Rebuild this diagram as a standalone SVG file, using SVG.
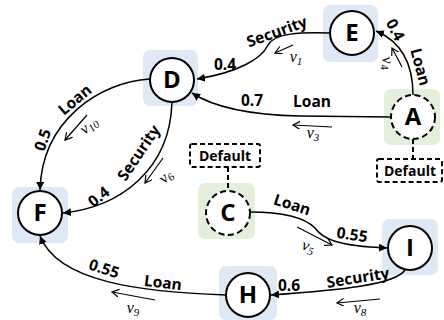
<svg xmlns="http://www.w3.org/2000/svg" width="444" height="320" viewBox="0 0 444 320">
<style>
.bgb{fill:#dfe9f6}
.bgg{fill:#e3efda}
.nd{fill:#fff;stroke:#000;stroke-width:2}
.dash{stroke-dasharray:6 3.5}
.nt{font-family:"Open Sans","Liberation Sans",sans-serif;font-weight:bold;font-size:24px;text-anchor:middle}
.lb{font-family:"Open Sans","Liberation Sans",sans-serif;font-weight:bold;font-size:15.5px;text-anchor:middle}
.nu{font-family:"Liberation Serif",serif;font-style:italic;font-size:16px;text-anchor:middle}
.sub{font-size:11px}
.e{fill:none;stroke:#000;stroke-width:1.5}
.sa{fill:none;stroke:#000;stroke-width:1.2}
.db{fill:#fff;stroke:#000;stroke-width:2;stroke-dasharray:5 3}
</style>
<defs>
<marker id="ah" markerUnits="userSpaceOnUse" markerWidth="10" markerHeight="10" refX="8" refY="4" orient="auto">
<path d="M0,0 L8,4 L0,8 Z" fill="#000"/>
</marker>
<marker id="oa" markerUnits="userSpaceOnUse" markerWidth="10" markerHeight="10" refX="7" refY="4" orient="auto">
<path d="M0,0 L7,4 L0,8" fill="none" stroke="#000" stroke-width="1.2"/>
</marker>
</defs>

<g id="highlights">
<rect class="bgb" x="323" y="5" width="55" height="57" rx="7"/>
<rect class="bgb" x="143" y="50" width="55" height="56" rx="7"/>
<rect class="bgg" x="384" y="89" width="56" height="56" rx="7"/>
<rect class="bgb" x="12" y="187" width="56" height="56" rx="7"/>
<rect class="bgg" x="198" y="183" width="57" height="56" rx="7"/>
<rect class="bgb" x="382" y="219" width="56" height="56" rx="7"/>
<rect class="bgb" x="219" y="266" width="58" height="54" rx="7"/>
</g>

<g id="connectors">
<path class="e" d="M330,33 C300,32 275,33 268,45 C262,58 240,72 197,79" marker-end="url(#ah)"/>
<path class="e" d="M413,95 C413,65 402,42 376,31" marker-end="url(#ah)"/>
<path class="e" d="M391,117 L300,116 C250,115 215,108 192,93" marker-end="url(#ah)"/>
<path class="e" d="M150,79 C100,82 42,120 40,190" marker-end="url(#ah)"/>
<path class="e" d="M172,102 C170,170 120,207 63,213" marker-end="url(#ah)"/>
<path class="e" d="M250,212 C285,212 305,218 315,228 C322,238 335,246 387,248" marker-end="url(#ah)"/>
<path class="e" d="M405,270 C395,285 340,290 271,295" marker-end="url(#ah)"/>
<path class="e" d="M226,295 C140,292 58,282 40,236" marker-end="url(#ah)"/>
<path class="db" d="M228,167 V191" style="fill:none"/>
<path class="db" d="M413,139 V159" style="fill:none"/>
</g>

<g id="flow-arrows">
<path class="sa" d="M293,45 L275,53" marker-end="url(#oa)"/>
<path class="sa" d="M402,67 L392,48" marker-end="url(#oa)"/>
<path class="sa" d="M332,127 L293,125" marker-end="url(#oa)"/>
<path class="sa" d="M87,115 L65,140" marker-end="url(#oa)"/>
<path class="sa" d="M163,158 L145,183" marker-end="url(#oa)"/>
<path class="sa" d="M297,227 L332,245" marker-end="url(#oa)"/>
<path class="sa" d="M380,299 L337,303" marker-end="url(#oa)"/>
<path class="sa" d="M155,300 L112,292" marker-end="url(#oa)"/>
</g>

<g id="labels">
<text class="lb" transform="translate(277,32) rotate(-20)" y="5">Security</text>
<text class="lb" x="225" y="70">0.4</text>
<text class="nu" x="296" y="62">ν<tspan class="sub" dy="3">1</tspan></text>

<text class="lb" transform="translate(395,30) rotate(62)" y="5">0.4</text>
<text class="lb" transform="translate(420,67) rotate(75)" y="5">Loan</text>
<text class="nu" transform="translate(387,63) rotate(80)" y="4">ν<tspan class="sub" dy="3">4</tspan></text>

<text class="lb" x="252" y="106">0.7</text>
<text class="lb" x="312" y="107">Loan</text>
<text class="nu" x="313" y="138">ν<tspan class="sub" dy="3">3</tspan></text>

<text class="lb" transform="translate(75,100) rotate(-40)" y="5">Loan</text>
<text class="lb" transform="translate(43,140) rotate(-72)" y="5">0.5</text>
<text class="nu" transform="translate(89,126) rotate(-40)" y="4">ν<tspan class="sub" dy="3">10</tspan></text>

<text class="lb" transform="translate(139,153) rotate(-56)" y="5">Security</text>
<text class="lb" transform="translate(99,197) rotate(-38)" y="5">0.4</text>
<text class="nu" transform="translate(166,177) rotate(-45)" y="4">ν<tspan class="sub" dy="3">6</tspan></text>

<text class="lb" transform="translate(292,205) rotate(18)" y="5">Loan</text>
<text class="lb" transform="translate(352,235) rotate(8)" y="5">0.55</text>
<text class="nu" transform="translate(308,247) rotate(15)" y="4">ν<tspan class="sub" dy="3">5</tspan></text>

<text class="lb" transform="translate(358,278) rotate(-9)" y="5">Security</text>
<text class="lb" x="289" y="291">0.6</text>
<text class="nu" x="360" y="313">ν<tspan class="sub" dy="3">8</tspan></text>

<text class="lb" transform="translate(163,283) rotate(7)" y="5">Loan</text>
<text class="lb" transform="translate(104,269) rotate(18)" y="5">0.55</text>
<text class="nu" x="133" y="313">ν<tspan class="sub" dy="3">9</tspan></text>
</g>

<g id="node-E"><circle class="nd" cx="352" cy="33" r="22"/><text class="nt" x="352" y="41">E</text></g>
<g id="node-D"><circle class="nd" cx="172" cy="80" r="22"/><text class="nt" x="172" y="88">D</text></g>
<g id="node-A"><circle class="nd dash" cx="413" cy="117" r="22"/><text class="nt" x="413" y="125">A</text></g>
<g id="node-F"><circle class="nd" cx="40" cy="213" r="22"/><text class="nt" x="40" y="221">F</text></g>
<g id="node-C"><circle class="nd dash" cx="228" cy="213" r="22"/><text class="nt" x="228" y="221">C</text></g>
<g id="node-I"><circle class="nd" cx="410" cy="248" r="22"/><text class="nt" x="410" y="256">I</text></g>
<g id="node-H"><circle class="nd" cx="248" cy="295" r="22"/><text class="nt" x="248" y="303">H</text></g>

<g id="default-C"><rect class="db" x="190" y="144" width="70" height="23" rx="2"/><text class="lb" x="225" y="161" style="font-size:14px">Default</text></g>
<g id="default-A"><rect class="db" x="377" y="159" width="65" height="23" rx="2"/><text class="lb" x="410" y="176" style="font-size:14px">Default</text></g>
</svg>
